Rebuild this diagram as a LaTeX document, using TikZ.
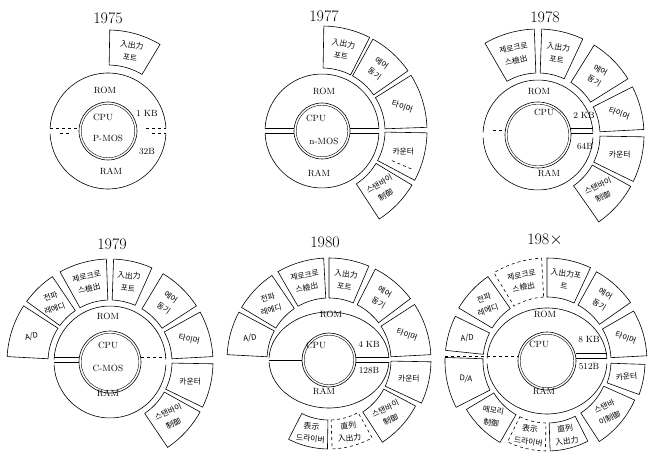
\documentclass[tikz,border=0pt]{standalone}
\usepackage{fontspec}
\newfontfamily\kr{Noto Sans CJK KR}

% ring sector with its label: name, start, end, inner r, outer r, rotation, style, text
\newcommand{\seg}[8]{%
  \draw[#7] (#2:#4) arc[start angle=#2,end angle=#3,radius=#4pt]
    -- (#3:#5) arc[start angle=#3,end angle=#2,radius=#5pt] -- cycle;
  \node[lbl,rotate=#6] (#1) at ({(#2+#3)/2}:{(#4+#5)/2}) {#8};}
% ROM/RAM ring and CPU core: x radius, y radius, cpu radius
\newcommand{\core}[3]{%
  \draw (2.5:#1pt and #2pt) arc[start angle=2.5,end angle=177.5,x radius=#1pt,y radius=#2pt];
  \draw (182.5:#1pt and #2pt) arc[start angle=182.5,end angle=357.5,x radius=#1pt,y radius=#2pt];
  \draw (0,0) circle[radius=#3pt];
  \draw[line width=0.4pt] (0,0) circle[radius={(#3-2.2)*1pt}];}

\begin{document}
\begin{tikzpicture}[x=1pt,y=1pt,line width=0.6pt,
  lbl/.style={font=\kr\fontsize{7.8}{12.5}\selectfont,align=center,inner sep=0pt},
  txt/.style={font=\fontsize{9}{10}\selectfont,inner sep=0pt},
  yr/.style={font=\fontsize{16}{18}\selectfont,inner sep=0pt}]
  \useasboundingbox (0,0) rectangle (648,453);
  % 1975
  \begin{scope}[shift={(108,322)}]
    \node[yr] (t75) at (0,113) {1975};
    \core{58}{58}{29}
    \draw[dashed] (-58,2.5) -- (-30,2.5) (-48,-2.5) -- (-38,-2.5);
    \draw[dashed] (38,2.5) -- (58,2.5) (44,-2.5) -- (58,-2.5);
    \node[txt] (rom75) at (-3,41) {ROM};
    \node[txt] (cpu75) at (-5,14) {CPU};
    \node[txt] (mos75) at (0,-7) {P-MOS};
    \node[txt] (kb75) at (39,18) {1 KB};
    \node[txt] (b75) at (39,-21) {32B};
    \node[txt] (ram75) at (3,-40) {RAM};
    \seg{io75}{59}{89}{66}{101}{-8}{}{入出力\\포트}
  \end{scope}
  % 1977
  \begin{scope}[shift={(322,322)}]
    \node[yr] (t77) at (2,115) {1977};
    \core{57}{57}{28}
    \draw (-57,2.5) -- (-28,2.5) (-57,-2.5) -- (-28,-2.5);
    \draw (28,2.5) -- (57,2.5) (28,-2.5) -- (57,-2.5);
    \node[txt] (rom77) at (2,40) {ROM};
    \node[txt] (cpu77) at (-6,13) {CPU};
    \node[txt] (mos77) at (2,-10) {n-MOS};
    \node[txt] (ram77) at (-3,-42) {RAM};
    \seg{io77}{63}{89}{63}{105}{-12}{}{入出力\\포트}
    \seg{sy77}{35}{61}{63}{105}{-35}{}{에어\\동기}
    \seg{tm77}{2}{32}{63}{105}{-18}{}{타이머}
    \seg{ct77}{-28}{-1}{63}{105}{0}{}{카운터}
    \seg{sb77}{-57}{-31}{63}{105}{30}{}{스탠바이\\制御}
    \draw[dashed] (-23:76) -- (-23:100);
  \end{scope}
  % 1978
  \begin{scope}[shift={(538,318)}]
    \node[yr] (t78) at (7,118) {1978};
    \core{55}{55}{33}
    \draw[dashed] (-45,5) -- (-32.5,5);
    \draw (32.4,6.5) -- (54.6,6.5) (33,1.5) -- (55,1.5);
    \node[txt] (rom78) at (1,44) {ROM};
    \node[txt] (cpu78) at (6,23) {CPU};
    \node[txt] (kb78) at (46,20) {2 KB};
    \node[txt] (b78) at (47,-12) {64B};
    \node[txt] (ram78) at (11,-38) {RAM};
    \seg{zc78}{92}{120}{62}{106}{12}{}{제로크로\\스檢出}
    \seg{io78}{65}{88}{62}{106}{-8}{}{入出力\\포트}
    \seg{sy78}{32}{58}{62}{106}{-30}{}{에어\\동기}
    \seg{tm78}{3}{27}{62}{106}{-20}{}{타이머}
    \seg{ct78}{-26}{-1}{62}{106}{0}{}{카운터}
    \seg{sb78}{-55}{-29}{62}{106}{25}{}{스탠바이\\制御}
  \end{scope}
  % 1979
  \begin{scope}[shift={(110,91)}]
    \node[yr] (t79) at (2,118) {1979};
    \core{56}{56}{31}
    \draw (-56,4.5) -- (-30.7,4.5) (-56,-0.5) -- (-31,-0.5);
    \draw[dashed] (30.6,5) -- (55.8,5);
    \node[txt] (rom79) at (-2,46) {ROM};
    \node[txt] (cpu79) at (-2,17) {CPU};
    \node[txt] (mos79) at (-2,-6) {C-MOS};
    \node[txt] (ram79) at (-2,-31) {RAM};
    \seg{ad79}{147}{177}{62}{103}{12}{}{A/D}
    \seg{rd79}{124}{144}{62}{103}{20}{}{전파\\레에디}
    \seg{zc79}{92}{119}{62}{103}{12}{}{제로크로\\스檢出}
    \seg{io79}{66}{88}{62}{103}{-5}{}{入出力\\포트}
    \seg{sy79}{33}{59}{62}{103}{-35}{}{에어\\동기}
    \seg{tm79}{3}{29}{62}{103}{-12}{}{타이머}
    \seg{ct79}{-26}{-1}{62}{103}{0}{}{카운터}
    \seg{sb79}{-56}{-29}{62}{103}{25}{}{스탠바이\\制御}
  \end{scope}
  % 1980
  \begin{scope}[shift={(329,93)}]
    \node[yr] (t80) at (-4,118) {1980};
    \core{60}{48}{27}
    \draw (-60,0) -- (-27,0);
    \draw (27,2.5) -- (60,2.5) (27,-2.5) -- (60,-2.5);
    \node[txt] (rom80) at (2,46) {ROM};
    \node[txt] (cpu80) at (-13,15) {CPU};
    \node[txt] (kb80) at (40,16) {4 KB};
    \node[txt] (b80) at (40,-11) {128B};
    \node[txt] (ram80) at (-5,-31) {RAM};
    \seg{ad80}{152}{177}{62}{102}{5}{}{A/D}
    \seg{rd80}{124}{149}{62}{102}{15}{}{전파\\레에디}
    \seg{zc80}{93}{120}{62}{102}{10}{}{제로크로\\스檢出}
    \seg{io80}{67}{90}{62}{102}{-8}{}{入出力\\포트}
    \seg{sy80}{37}{63}{62}{102}{-30}{}{에어\\동기}
    \seg{tm80}{3}{33}{62}{102}{-20}{}{타이머}
    \seg{ct80}{-25}{-1}{62}{102}{0}{}{카운터}
    \seg{sb80}{-57}{-28}{62}{98}{25}{}{스탠바이\\制御}
    \seg{sr80}{-88}{-61}{60}{89}{5}{dashed}{直列\\入出力}
    \seg{dp80}{-117}{-91}{60}{89}{-5}{}{表示\\드라이버}
  \end{scope}
  % 198x
  \begin{scope}[shift={(547,92)}]
    \node[yr] (t8x) at (-2,121) {198$\times$};
    \core{60}{53}{29}
    \draw[dashed] (-102,5) -- (-28.6,5);
    \draw (28.6,7.5) -- (59.5,7.5) (29,2.5) -- (60,2.5);
    \node[txt] (rom8x) at (-2,47) {ROM};
    \node[txt] (cpu8x) at (-8,17) {CPU};
    \node[txt] (kb8x) at (42,21) {8 KB};
    \node[txt] (b8x) at (42,-6) {512B};
    \node[txt] (ram8x) at (-3,-30) {RAM};
    \seg{ad8x}{154}{174}{64}{102}{5}{}{A/D}
    \seg{da8x}{178}{207}{64}{102}{-5}{}{D/A}
    \seg{mc8x}{211}{240}{62}{94}{-10}{}{메모리\\制御}
    \seg{dp8x}{244}{269}{62}{90}{-8}{dashed}{表示\\드라이버}
    \seg{sr8x}{272}{297}{62}{90}{8}{}{直列\\入出力}
    \seg{sb8x}{303}{336}{62}{96}{25}{}{스탠바\\이制御}
    \seg{ct8x}{340}{358}{64}{98}{5}{}{카운터}
    \seg{tm8x}{3}{30}{64}{100}{-20}{}{타이머}
    \seg{sy8x}{35}{61}{64}{102}{-30}{}{에어\\동기}
    \seg{io8x}{65}{90}{64}{103}{-8}{}{入出力포\\트}
    \seg{zc8x}{93}{121}{64}{103}{10}{dashed}{제로크로\\스檢出}
    \seg{rd8x}{125}{149}{64}{103}{18}{}{전파\\레에디}
  \end{scope}
\end{tikzpicture}
\end{document}
